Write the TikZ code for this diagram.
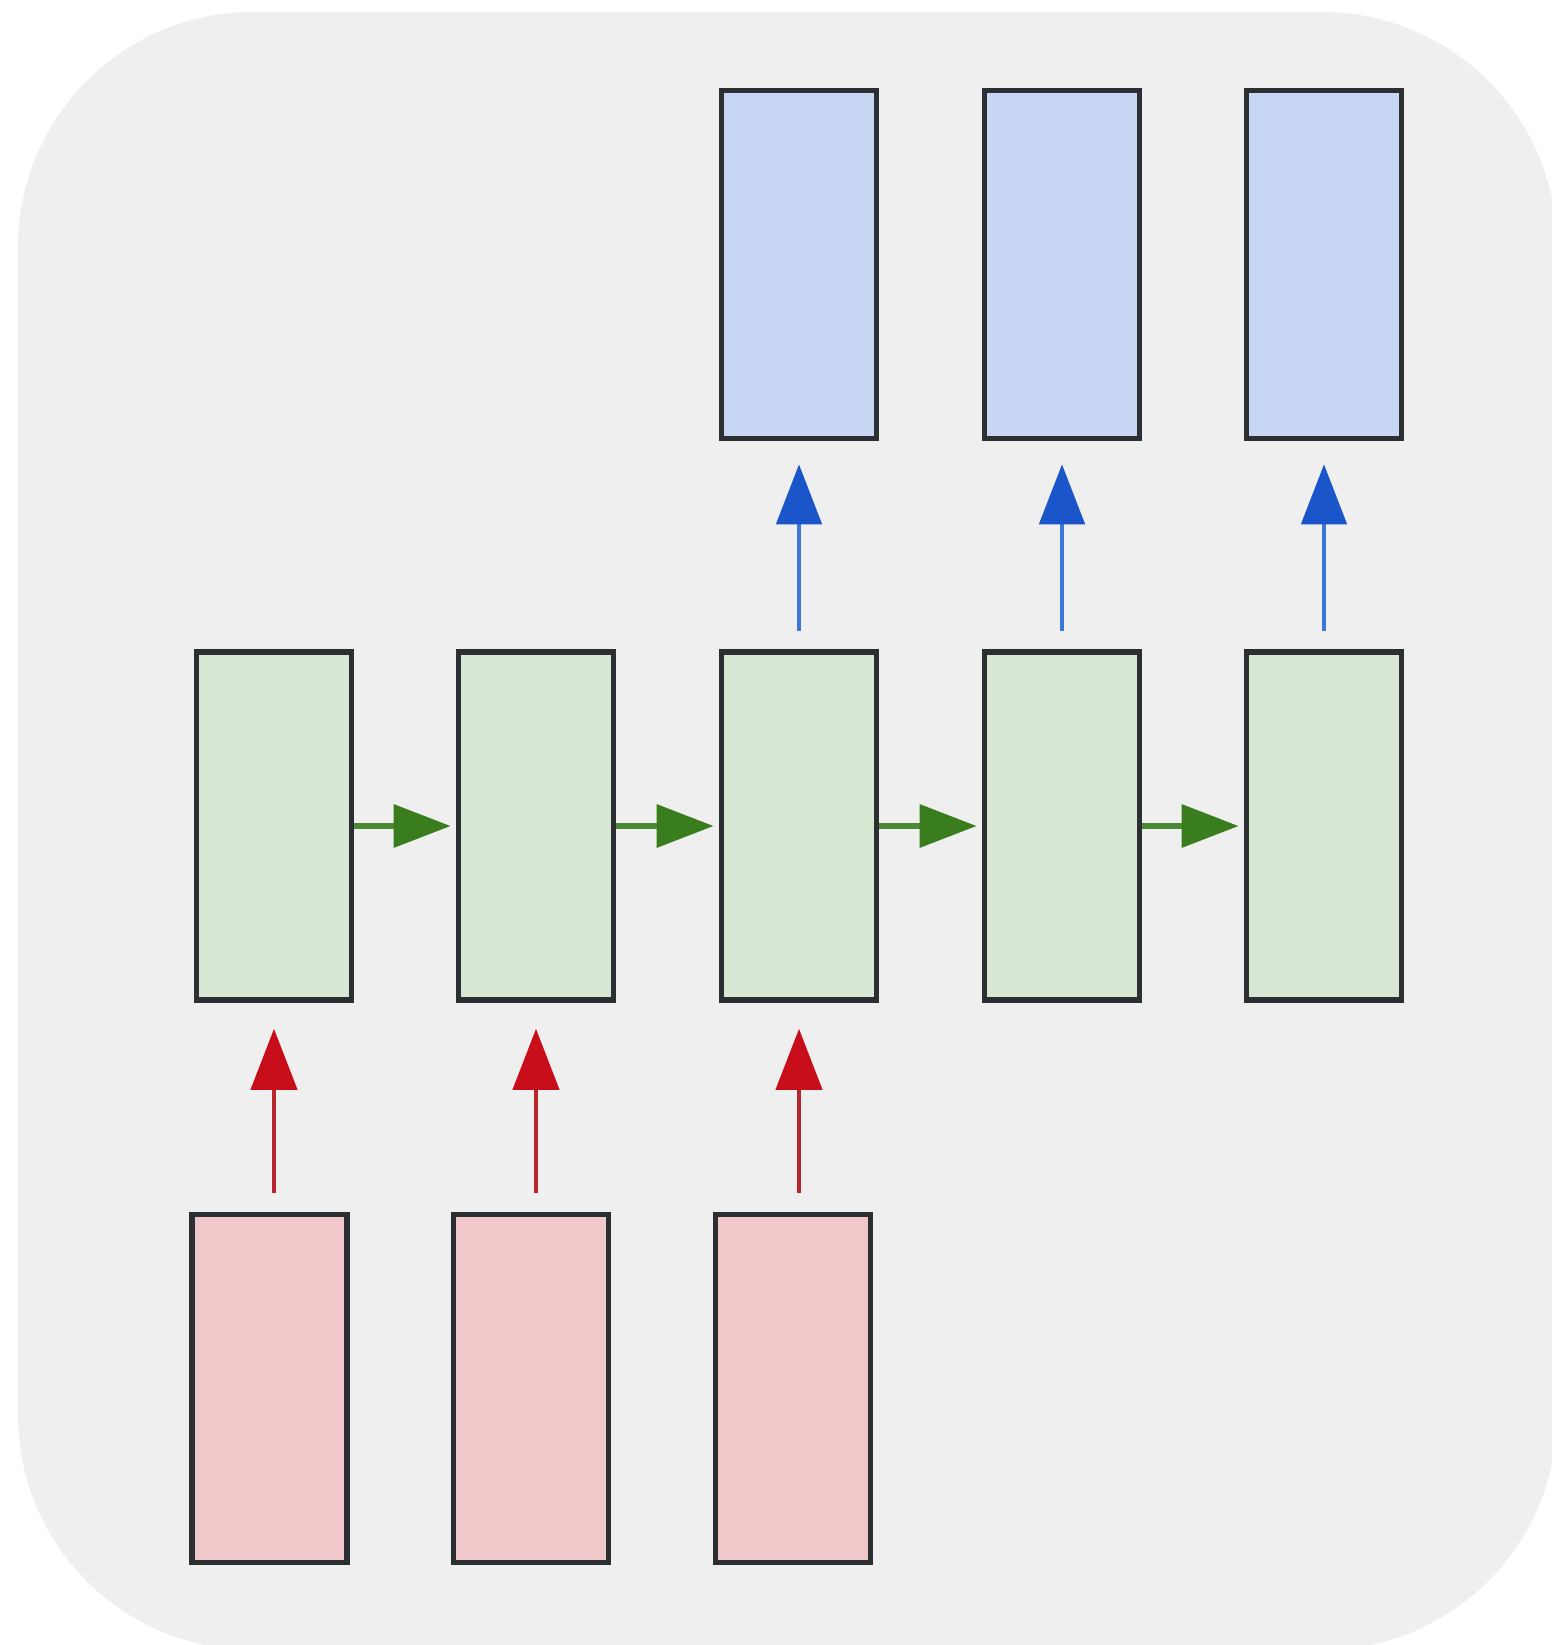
\documentclass[tikz,border=0pt]{standalone}
\usetikzlibrary{arrows.meta}
\definecolor{bgfill}{HTML}{EFEFEF}
\definecolor{edgecol}{HTML}{2B2F31}
\definecolor{bluefill}{HTML}{C7D7F3}
\definecolor{greenfill}{HTML}{D8E7D3}
\definecolor{redfill}{HTML}{F0C8C9}
\definecolor{blueline}{HTML}{3A77D6}
\definecolor{bluehead}{HTML}{1A55C9}
\definecolor{redline}{HTML}{B8252F}
\definecolor{redhead}{HTML}{C80E1A}
\definecolor{greenline}{HTML}{4A8A32}
\definecolor{greenhead}{HTML}{3A7D1E}
\begin{document}
\begin{tikzpicture}[x=0.5pt,y=-0.5pt,
  cell/.style={rectangle, draw=edgecol, line width=2.8pt, inner sep=0pt,
    minimum width=77.5pt, minimum height=174pt},
  outcell/.style={cell, fill=bluefill},
  hidcell/.style={cell, fill=greenfill},
  incell/.style={cell, fill=redfill},
  uparrowblue/.style={draw=blueline, line width=2.4pt,
    -{Triangle[length=30pt,width=22.5pt,color=bluehead]},
    shorten <=9pt, shorten >=11.5pt},
  uparrowred/.style={draw=redline, line width=2.2pt,
    -{Triangle[length=30.5pt,width=23pt,color=redhead]},
    shorten <=9.5pt, shorten >=13pt},
  rightarrowgreen/.style={draw=greenline, line width=3.2pt,
    -{Triangle[length=28.5pt,width=21pt,color=greenhead]},
    shorten >=2.5pt}
]
\useasboundingbox (0,0) rectangle (1552,1645);
\begin{scope}
  \clip (0,0) rectangle (1552,1645);
  \fill[bgfill, rounded corners=117.5pt] (18,12) rectangle (1557,1650);
\end{scope}

% output row (blue)
\node[outcell] (o3) at (799,264.5) {};
\node[outcell] (o4) at (1062,264.5) {};
\node[outcell] (o5) at (1324,264.5) {};

% hidden row (green)
\node[hidcell] (h1) at (274,826) {};
\node[hidcell] (h2) at (536,826) {};
\node[hidcell] (h3) at (799,826) {};
\node[hidcell] (h4) at (1062,826) {};
\node[hidcell] (h5) at (1324,826) {};

% input row (red)
\node[incell] (i1) at (269.5,1388.5) {};
\node[incell] (i2) at (531,1388.5) {};
\node[incell] (i3) at (793,1388.5) {};

% recurrent arrows
\draw[rightarrowgreen] (h1.east) -- (h2.west);
\draw[rightarrowgreen] (h2.east) -- (h3.west);
\draw[rightarrowgreen] (h3.east) -- (h4.west);
\draw[rightarrowgreen] (h4.east) -- (h5.west);

% input arrows
\draw[uparrowred] (h1.south |- i1.north) -- (h1.south);
\draw[uparrowred] (h2.south |- i2.north) -- (h2.south);
\draw[uparrowred] (h3.south |- i3.north) -- (h3.south);

% output arrows
\draw[uparrowblue] (h3.north) -- (h3.north |- o3.south);
\draw[uparrowblue] (h4.north) -- (h4.north |- o4.south);
\draw[uparrowblue] (h5.north) -- (h5.north |- o5.south);
\end{tikzpicture}
\end{document}
